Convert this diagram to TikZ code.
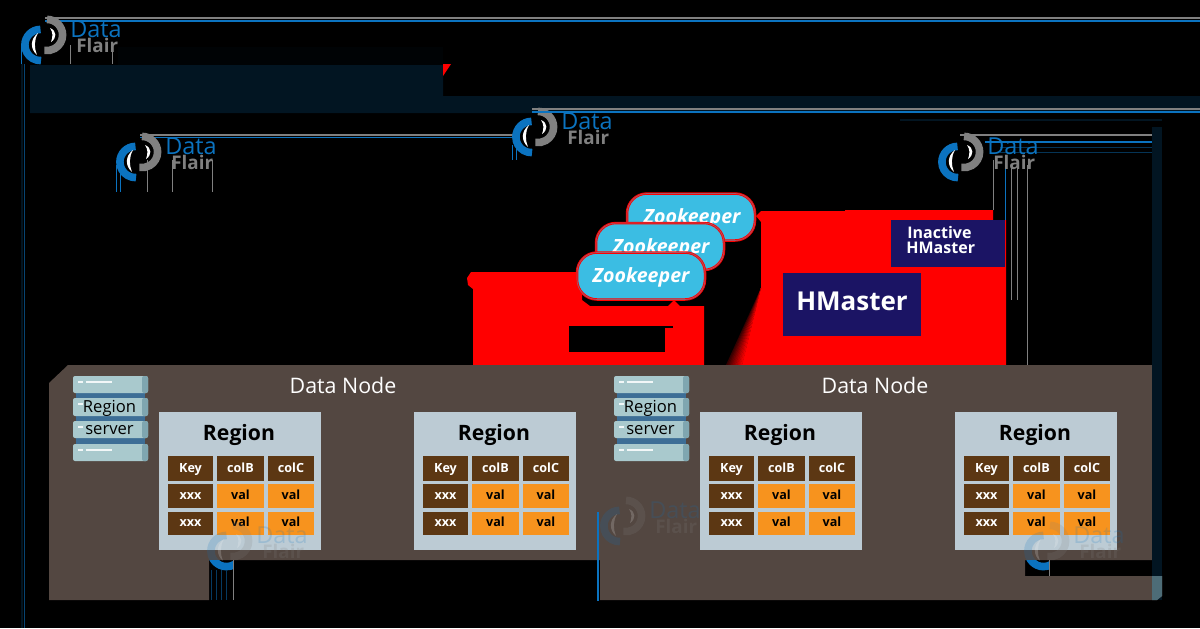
\documentclass[tikz,border=0pt]{standalone}
\usepackage{fontspec}
\setmainfont{Open Sans}
\usetikzlibrary{calc}
\definecolor{bandnavy}{HTML}{021522}
\definecolor{nodebrown}{HTML}{534741}
\definecolor{regionblue}{HTML}{BCCBD4}
\definecolor{cellbrown}{HTML}{5C3713}
\definecolor{cellorange}{HTML}{F7931E}
\definecolor{masterblue}{HTML}{1B1464}
\definecolor{zoocyan}{HTML}{3BBDE3}
\definecolor{slabteal}{HTML}{A9C9CD}
\definecolor{slabdark}{HTML}{7FA6B0}
\definecolor{slabgap}{HTML}{3D6E96}
\definecolor{logoblue}{HTML}{0B73C0}
\definecolor{logogray}{HTML}{808080}
\tikzset{
  cellkey/.style={fill=cellbrown,text=white,inner sep=0pt,text height=5pt,text depth=1.5pt,font=\fontsize{6.3}{7}\selectfont\bfseries},
  cellval/.style={fill=cellorange,text=black,inner sep=0pt,text height=5pt,text depth=1.5pt,font=\fontsize{6.3}{7}\selectfont\bfseries},
  lastrow/.style={text height=5.5pt,text depth=2.5pt},
  zoo/.style={draw=red,line width=.45pt,double=red!55!zoocyan,double distance=.35pt,fill=zoocyan,
    rounded corners=10pt,minimum width=64pt,minimum height=23.5pt,inner sep=0pt},
  zootext/.style={text=white,inner sep=0pt,text height=7.5pt,text depth=2pt,font=\fontsize{9.8}{11}\selectfont\bfseries\itshape},
  master/.style={fill=masterblue,text=white,inner sep=0pt,font=\bfseries},
  dntitle/.style={text=white,inner sep=0pt,font=\fontsize{10.7}{12}\selectfont},
  servertext/.style={inner sep=0pt,text=black,text height=6.2pt,text depth=1.8pt,font=\fontsize{8.3}{10}\selectfont},
  glitch/.style={line width=.4pt}
}
% one region table, #1 = name, #2 = left edge
\newcommand{\regionbox}[2]{
  \begin{scope}[shift={(#2,0)}]
    \fill[regionblue] (0,412) rectangle (162,550);
    \node[inner sep=0pt,text height=8pt,text depth=2.5pt,font=\fontsize{10.6}{12}\selectfont\bfseries] (#1t) at (80,434.5) {Region};
    \node[cellkey,minimum width=22.5pt,minimum height=12.5pt] (#1a) at (31.5,468.5) {Key};
    \node[cellkey,minimum width=23.5pt,minimum height=12.5pt] (#1b) at (81.5,468.5) {colB};
    \node[cellkey,minimum width=23pt,minimum height=12.5pt] (#1c) at (132,468.5) {colC};
    \node[cellkey,minimum width=22.5pt,minimum height=12pt] (#1d) at (31.5,496) {xxx};
    \node[cellval,minimum width=23.5pt,minimum height=12pt] (#1e) at (81.5,496) {val};
    \node[cellval,minimum width=23pt,minimum height=12pt] (#1f) at (132,496) {val};
    \node[cellkey,lastrow,minimum width=22.5pt,minimum height=11.5pt] (#1g) at (31.5,523.5) {xxx};
    \node[cellval,lastrow,minimum width=23.5pt,minimum height=11.5pt] (#1h) at (81.5,523.5) {val};
    \node[cellval,lastrow,minimum width=23pt,minimum height=11.5pt] (#1i) at (132,523.5) {val};
  \end{scope}
}
% server stack, #1 = name, #2 = left edge
\newcommand{\serverstack}[2]{
  \begin{scope}[shift={(#2,0)}]
    \fill[slabgap] (3,390) rectangle (72,446);
    \foreach \top/\bot in {376/393,398/416,421/438,444/461}{
      \fill[slabteal,rounded corners=1pt] (0,\top) rectangle (75,\bot);
      \fill[slabdark,rounded corners=1pt] (69,\top) rectangle (75,\bot);
    }
    \foreach \top in {381,449}{
      \fill[white!85!slabteal] (5,\top) rectangle (10,\top+2);
      \fill[white!85!slabteal] (13,\top) rectangle (39,\top+2);
    }
    \fill[white!85!slabteal] (5,403) rectangle (10,405);
    \fill[white!85!slabteal] (5,426) rectangle (10,428);
    \node[servertext] (#1r) at (36.5,408.5) {Region};
    \node[servertext] (#1s) at (36.5,430.5) {server};
  \end{scope}
}
% logo, #1 = name, #2 = left, #3 = top, #4 = opacity
\newcommand{\dflogo}[4]{
  \begin{scope}[shift={(#2,#3)},opacity=#4]
    \draw[logogray,line width=3.8pt] (26,19) ++(90:7.8pt) arc (90:-100:7.8pt);
    \draw[logoblue,line width=3.8pt] (19.5,29) ++(90:7.8pt) arc (90:272:7.8pt);
    \fill[white] (17,17) .. controls (9,23) and (9,33) .. (16,39) .. controls (13,32) and (13,24) .. cycle;
    \fill[white] (29,12) .. controls (36,15) and (36,22) .. (30,26) .. controls (32,21) and (32,16) .. cycle;
    \node[inner sep=0pt,anchor=west,text=logoblue,text height=8pt,text depth=0pt,font=\fontsize{11.7}{12}\selectfont] (#1d) at (49,13) {Data};
    \node[inner sep=0pt,anchor=west,text=logogray,text height=6.5pt,text depth=0pt,font=\fontsize{9.4}{10}\selectfont\bfseries] (#1f) at (55,30) {Flair};
  \end{scope}
}
\begin{document}
\begin{tikzpicture}[x=0.5pt,y=-0.5pt]
  \useasboundingbox (0,0) rectangle (1200,628);
  \fill[black] (0,0) rectangle (1200,628);
  % title band
  \fill[black!85!bandnavy] (118,47) rectangle (443,65);
  \fill[bandnavy] (30,65) -- (443,65) -- (443,96) -- (1200,96) -- (1200,113) -- (30,113) -- cycle;
  \fill[red] (443,64) -- (451,64) -- (443,76) -- cycle;
  \fill[bandnavy] (1152,127) rectangle (1162,600);
  \draw[bandnavy,line width=.8pt] (900,120) -- (1162,120);
  \fill[bandnavy] (21,64) rectangle (23,628);
  \fill[logoblue!60!black] (24,64) rectangle (25,628);
  % smeared logo lines
  \fill[logogray] (45,17) rectangle (1200,19);
  \fill[logoblue] (45,20) rectangle (1200,22);
  \fill[logogray] (140,134) rectangle (515,136);
  \fill[logoblue] (140,136.5) rectangle (515,138);
  \fill[logogray] (960,134) rectangle (1152,136);
  \fill[logoblue] (985,141) rectangle (1152,143);
  \draw[logoblue!45!black,glitch] (1000,147) -- (1152,147);
  \draw[logoblue!45!black,glitch] (1000,152) -- (1152,152);
  \foreach \xa/\ya/\yb in {70/45/64,112/47/64,147/160/192,172/160/192,212/160/192,993/160/210,1011/165/300,1017/165/300,1027/165/365}{
    \draw[logogray,glitch] (\xa,\ya) -- (\xa,\yb);
  }
  \foreach \xa/\ya/\yb in {21/45/64,116/165/192,120/170/192,512/145/160,516/145/160,1005/160/220}{
    \draw[logoblue,glitch] (\xa,\ya) -- (\xa,\yb);
  }
  % red areas
  \fill[red] (473,365) -- (473,289) -- (468,285) -- (467,278) -- (471,272) -- (582,272) -- (582,300)
    -- (590,306) -- (668,306) -- (674,300) -- (680,306) -- (704,306) -- (704,365) -- cycle;
  \fill[red] (756,216) -- (761,211) -- (845,211) -- (845,210) -- (993,210) -- (993,220) -- (1006,220)
    -- (1006,365) -- (742,365) -- (761,288) -- (761,222) -- cycle;
  % soft edge of the red area
  \foreach \k in {0,...,9}{
    \fill[red!\the\numexpr 20+8*\k\relax!black] (761,288) -- ({726+1.6*\k},365) -- ({726+1.6*(\k+1)+.3},365) -- cycle;
  }
  % black box
  \fill[black] (569,326) rectangle (665,352);
  \fill[black] (665,326) rectangle (673,328);
  % zookeepers
  \node[zoo] (zooc) at (691,217) {};
  \node[zootext] (zooct) at (692,218) {Zookeeper};
  \node[zoo] (zoob) at (660,246.5) {};
  \node[zootext] (zoobt) at (661,247.5) {Zookeeper};
  \node[zoo] (zooa) at (641,276) {};
  \node[zootext] (zooat) at (641,276.5) {Zookeeper};
  % masters
  \node[master,minimum width=57pt,minimum height=23.5pt] (inactive) at (948,243.5) {};
  \node[text=white,inner sep=0pt,anchor=west,font=\fontsize{8}{9}\selectfont\bfseries] (inactivea) at (907,232) {Inactive};
  \node[text=white,inner sep=0pt,anchor=west,font=\fontsize{8}{9}\selectfont\bfseries] (inactiveb) at (906,248) {HMaster};
  \node[master,minimum width=69pt,minimum height=31.5pt,text depth=3pt,font=\fontsize{13}{15}\selectfont\bfseries] (hmaster) at (852,304.5) {HMaster};
  % data node body
  \fill[nodebrown] (49,383) -- (68,365) -- (1152,365) -- (1152,560) -- (1025,560) -- (1025,576) -- (1162,576)
    -- (1162,596) -- (1157,600) -- (600,600) -- (600,560) -- (209,560) -- (209,600) -- (49,600) -- cycle;
  \fill[slabdark!60!bandnavy] (1152,576) -- (1162,576) -- (1162,596) -- (1157,600) -- (1152,600) -- cycle;
  \fill[bandnavy] (1152,365) rectangle (1162,576);
  \node[dntitle] (dna) at (343,385) {Data Node};
  \node[dntitle] (dnb) at (875,385) {Data Node};
  \serverstack{sa}{73}
  \serverstack{sb}{614}
  \regionbox{ra}{159}
  \regionbox{rb}{414}
  \regionbox{rc}{700}
  \regionbox{rd}{955}
  % logos
  \dflogo{la}{21}{16}{1}
  \dflogo{lb}{116}{133}{1}
  \dflogo{lc}{512}{108}{1}
  \dflogo{ld}{938}{133}{1}
  \dflogo{le}{600}{497}{.18}
  \dflogo{lf}{207}{522}{.18}
  \dflogo{lg}{1024}{522}{.18}
  % line over logo c
  \fill[bandnavy] (556,100) rectangle (1200,113);
  \fill[logogray] (532,108) rectangle (1200,110);
  \fill[logoblue] (532,111) rectangle (1200,112.5);
  % logo leftovers
  \fill[logoblue] (597,512) rectangle (599,601);
  \begin{scope}
    \clip (207,560) rectangle (233,600);
    \draw[logoblue,line width=3.8pt] (226.5,551) ++(180:7.8pt) arc (180:300:7.8pt);
  \end{scope}
  \begin{scope}
    \clip (1024,560) rectangle (1049,576);
    \draw[logoblue,line width=3.8pt] (1043.5,551) ++(180:7.8pt) arc (180:300:7.8pt);
  \end{scope}
  \foreach \xa in {211,216,221,226}{
    \draw[logoblue!50!black,glitch] (\xa,570) -- (\xa,600);
  }
  \draw[gray,glitch] (233,560) -- (233,600);
  \draw[gray,glitch] (1049,560) -- (1049,576);
\end{tikzpicture}
\end{document}
